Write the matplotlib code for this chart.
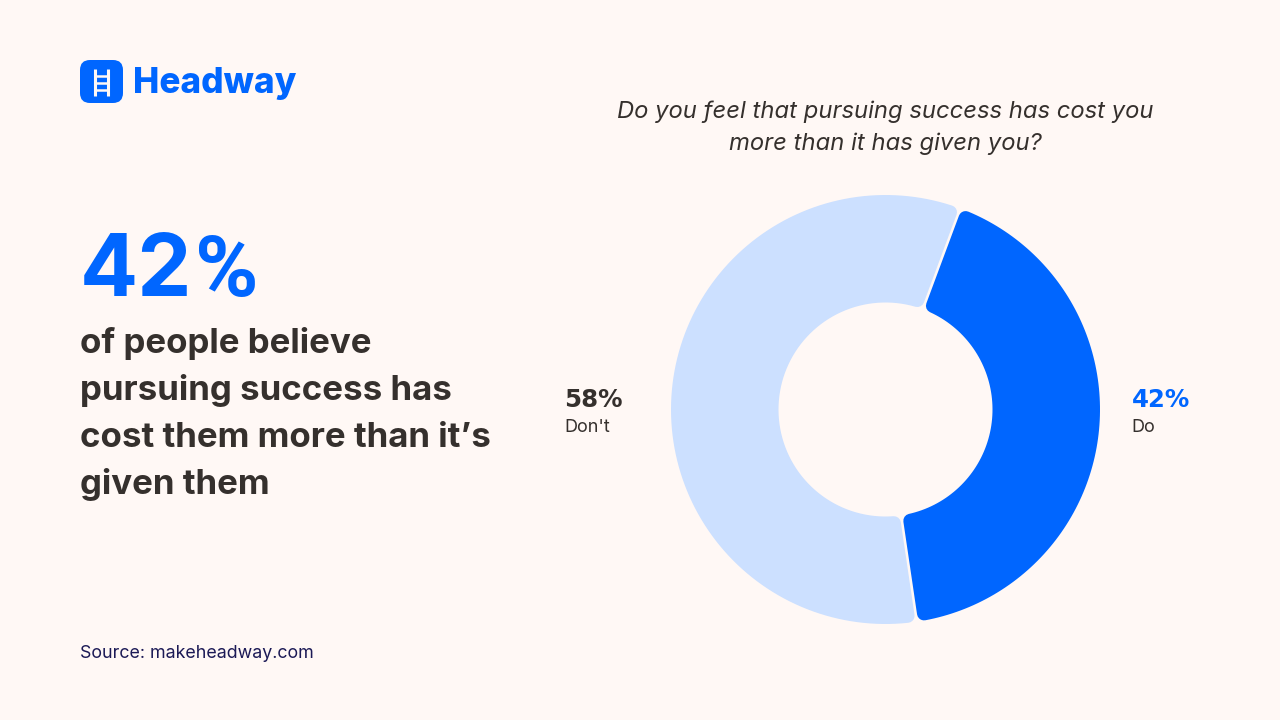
import numpy as np
from matplotlib import pyplot as plt
from matplotlib.path import Path
from matplotlib.patches import FancyBboxPatch, PathPatch

categories = ["Do", "Don't"]
values = [42, 58]
value_labels = ["42%", "58%"]
headline = "42%"
body_lines = ["of people believe", "pursuing success has", "cost them more than it\u2019s", "given them"]
question_lines = ["Do you feel that pursuing success has cost you", "more than it has given you?"]
source = "Source: makeheadway.com"

BG = "#FFF8F5"
BLUE = "#0066FF"
LIGHT = "#CCE0FF"
DARK = "#35302D"
NAVY = "#1C1A56"

plt.rcParams["font.family"] = ["Inter", "DejaVu Sans"]

fig = plt.figure(figsize=(12.8, 7.2), dpi=100, facecolor=BG)

# page layer, works in pixels
ax = fig.add_axes([0, 0, 1, 1])
ax.set_xlim(0, 1280)
ax.set_ylim(720, 0)
ax.axis("off")

# ===== donut =====
cx, cy, r_out, r_in = 885.5, 409.5, 214.5, 107.0
ax2 = fig.add_axes([(cx - 220) / 1280, 1 - (cy + 220) / 720, 440 / 1280, 440 / 720])
ax2.set_xlim(-220, 220)
ax2.set_ylim(-220, 220)
ax2.axis("off")

wedges, _ = ax2.pie(values, colors=[BLUE, LIGHT], startangle=69.6, counterclock=False,
                    radius=r_out, frame=False, wedgeprops=dict(width=r_out - r_in))
ax2.set_xlim(-220, 220)
ax2.set_ylim(-220, 220)

corner = 7.0
gap = 1.3
for w in wedges:
    t1, t2 = np.radians(w.theta1), np.radians(w.theta2)
    r1, r2 = r_out - corner, r_in + corner
    inset = corner + gap
    d1, d2 = np.arcsin(inset / r1), np.arcsin(inset / r2)
    outer = np.linspace(t1 + d1, t2 - d1, 120)
    inner = np.linspace(t2 - d2, t1 + d2, 80)
    xy = np.vstack([np.c_[r1 * np.cos(outer), r1 * np.sin(outer)],
                    np.c_[r2 * np.cos(inner), r2 * np.sin(inner)]])
    xy = np.vstack([xy, xy[0]])
    color = w.get_facecolor()
    w.remove()
    ax2.add_patch(PathPatch(Path(xy, closed=True), facecolor=color, edgecolor=color,
                            linewidth=2 * corner * 0.72, joinstyle="round"))

# ===== logo =====
ax.add_patch(FancyBboxPatch((89, 69), 25, 25, boxstyle="round,pad=9,rounding_size=10",
                            facecolor=BLUE, edgecolor="none"))
for x in (94.5, 108):
    ax.plot([x, x], [69, 96], color=BG, lw=2.2, solid_capstyle="butt")
for y in (75.5, 82.5, 89.5):
    ax.plot([94.5, 108], [y, y], color=BG, lw=1.8, solid_capstyle="butt")
ax.text(133, 93.5, "Headway", color=BLUE, fontsize=25.3, fontweight=800, va="baseline", ha="left")

# ===== left text =====
ax.text(80, 296, headline[:2], color=BLUE, fontsize=62, fontweight="bold", va="baseline", ha="left")
ax.text(195, 296, headline[2:], color=BLUE, fontsize=62, fontweight="bold", family="Roboto", va="baseline", ha="left")
for y, line in zip((353, 400, 447, 494), body_lines):
    ax.text(80, y, line, color=DARK, fontsize=25.1, fontweight="bold", va="baseline", ha="left")
ax.text(80, 658, source, color=NAVY, fontsize=12.85, va="baseline", ha="left")

# ===== question =====
for y, line in zip((118, 150), question_lines):
    ax.text(885.5, y, line, color=DARK, fontsize=17.15, style="italic", va="baseline", ha="center")

# ===== labels =====
ax.text(1131.5, 407, value_labels[0], color=BLUE, fontsize=17.6, fontweight="bold", family="DejaVu Sans", va="baseline", ha="left")
ax.text(1131.5, 432, categories[0], color=DARK, fontsize=13.0, va="baseline", ha="left")
ax.text(564.5, 407, value_labels[1], color=DARK, fontsize=17.6, fontweight="bold", family="DejaVu Sans", va="baseline", ha="left")
ax.text(564.5, 432, categories[1], color=DARK, fontsize=13.0, va="baseline", ha="left")

fig.savefig("out.png", dpi=100, facecolor=BG)
